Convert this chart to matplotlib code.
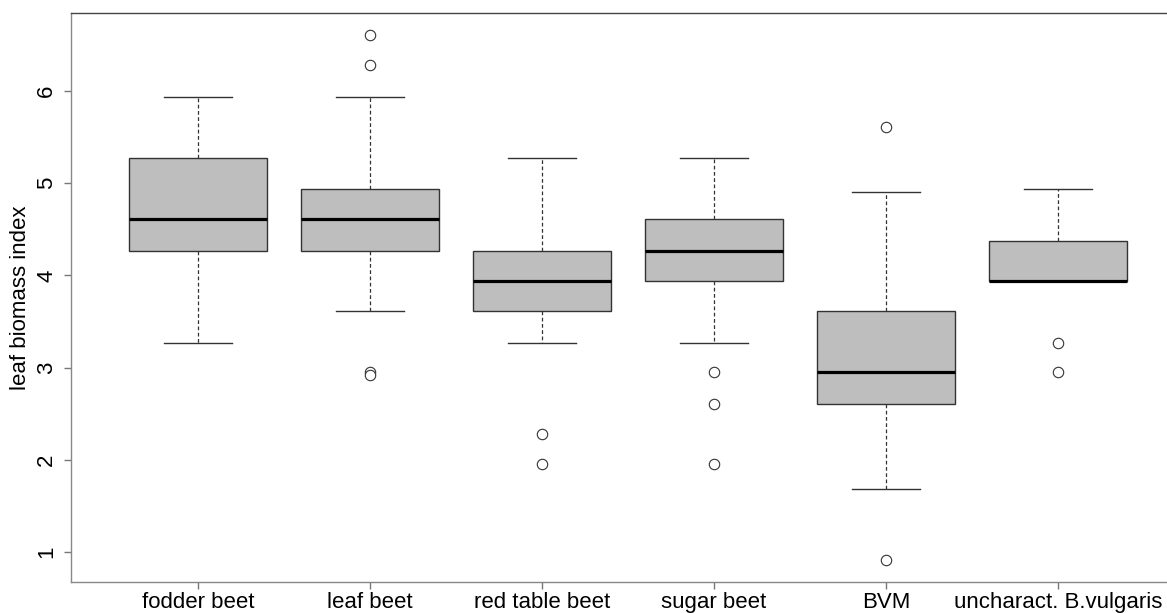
import matplotlib
matplotlib.use("Agg")
import matplotlib.pyplot as plt

plt.rcParams['font.family'] = ['Liberation Sans', 'DejaVu Sans']

categories = ["fodder beet", "leaf beet", "red table beet", "sugar beet",
              "BVM", "uncharact. B.vulgaris"]
whislo = [3.27, 3.61, 3.27, 3.27, 1.68, 3.94]
q1 = [4.27, 4.27, 3.61, 3.94, 2.61, 3.94]
med = [4.61, 4.61, 3.94, 4.27, 2.95, 3.94]
q3 = [5.27, 4.94, 4.27, 4.61, 3.61, 4.37]
whishi = [5.94, 5.94, 5.27, 5.27, 4.91, 4.94]
fliers = [
    [],
    [6.61, 6.28, 2.95, 2.92],
    [2.28, 1.95],
    [2.95, 2.61, 1.95],
    [5.61, 0.91],
    [3.27, 2.95],
]
y_ticks = [1, 2, 3, 4, 5, 6]

stats = []
for i, name in enumerate(categories):
    stats.append(dict(label=name, whislo=whislo[i], q1=q1[i], med=med[i],
                      q3=q3[i], whishi=whishi[i], fliers=fliers[i]))

fig = plt.figure(figsize=(11.67, 6.13), dpi=100)
ax = fig.add_axes([71 / 1167, 31 / 613, 1 - 71 / 1167, 569 / 613])

edge = "#333333"
ax.bxp(stats, positions=range(1, len(categories) + 1), widths=0.8,
       patch_artist=True, showfliers=True,
       boxprops=dict(facecolor="#bebebe", edgecolor=edge, linewidth=1.0),
       medianprops=dict(color="black", linewidth=2.3, solid_capstyle="butt"),
       whiskerprops=dict(color=edge, linewidth=0.9, linestyle=(0, (3, 2))),
       capprops=dict(color=edge, linewidth=1.0),
       capwidths=0.4,
       flierprops=dict(marker="o", markerfacecolor="white",
                       markeredgecolor=edge, markersize=7.5,
                       markeredgewidth=0.8, linestyle="none"))

ax.set_xlim(0.262, 6.634)
ax.set_ylim(0.675, 6.846)
ax.set_yticks(y_ticks)
ax.set_yticklabels([str(t) for t in y_ticks], rotation=90, va="center",
                   fontsize=16)
ax.set_xticks(range(1, len(categories) + 1))
ax.set_xticklabels(categories, fontsize=16)
ax.tick_params(axis="both", colors="#777777", length=5, width=1, labelcolor="black")
ax.tick_params(axis="y", pad=5)
ax.tick_params(axis="x", pad=2)
ax.set_ylabel("leaf biomass index", fontsize=16, labelpad=4)

ax.spines["right"].set_visible(False)
ax.spines["top"].set_color("#444444")
ax.spines["left"].set_color("#888888")
ax.spines["bottom"].set_color("#888888")
for s in ax.spines.values():
    s.set_linewidth(1.0)

fig.savefig("out.png", dpi=100)
